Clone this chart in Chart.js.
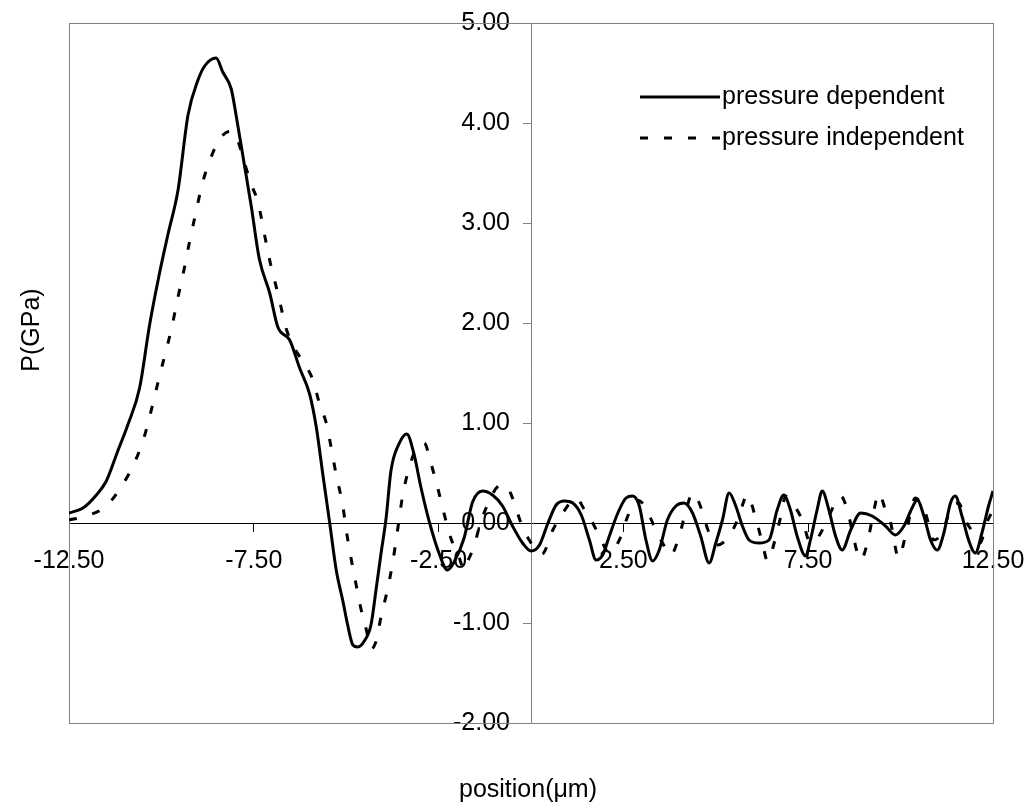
<!DOCTYPE html>
<html>
<head>
<meta charset="utf-8">
<script src="https://cdn.jsdelivr.net/npm/chart.js@4/dist/chart.umd.min.js"></script>
<style>
  html, body { margin: 0; padding: 0; background: #fff; }
  #wrap { width: 1034px; height: 809px; position: relative; }
</style>
</head>
<body>
<div id="wrap"><canvas id="chart"></canvas></div>
<script>
// pressure dependent (solid)
const depX = [-12.5,-12.12,-11.76,-11.49,-11.18,-10.91,-10.59,-10.32,-10.05,-9.82,-9.55,-9.28,-9.01,-8.83,-8.52,-8.34,-8.11,-7.98,-7.75,-7.57,-7.35,-7.07,-6.85,-6.53,-6.26,-5.99,-5.81,-5.63,-5.45,-5.27,-5.09,-4.96,-4.82,-4.69,-4.51,-4.33,-4.19,-4.06,-3.92,-3.79,-3.56,-3.36,-3.16,-2.98,-2.75,-2.48,-2.26,-2.08,-1.81,-1.58,-1.31,-1.04,-0.77,-0.50,-0.23,0.0,0.23,0.46,0.68,0.91,1.13,1.36,1.58,1.76,1.94,2.12,2.35,2.57,2.75,2.93,3.11,3.29,3.47,3.69,3.92,4.14,4.37,4.59,4.82,5.00,5.18,5.36,5.54,5.72,5.90,6.17,6.44,6.66,6.84,7.02,7.20,7.43,7.56,7.74,7.88,8.06,8.24,8.42,8.65,8.92,9.23,9.59,9.86,10.09,10.31,10.45,10.63,10.81,10.99,11.17,11.35,11.48,11.66,11.84,12.02,12.20,12.38,12.5];
const depY = [0.10,0.15,0.28,0.42,0.72,0.98,1.35,1.98,2.50,2.89,3.33,4.08,4.43,4.57,4.65,4.51,4.34,4.08,3.57,3.17,2.64,2.30,1.96,1.83,1.55,1.29,0.96,0.48,0.01,-0.47,-0.78,-1.02,-1.22,-1.24,-1.18,-1.02,-0.66,-0.31,0.05,0.52,0.80,0.89,0.68,0.36,0.01,-0.31,-0.47,-0.39,-0.15,0.21,0.32,0.28,0.17,-0.03,-0.20,-0.28,-0.22,0.0,0.18,0.22,0.20,0.08,-0.17,-0.37,-0.32,-0.13,0.10,0.25,0.27,0.17,-0.17,-0.38,-0.27,0.03,0.17,0.20,0.10,-0.13,-0.40,-0.20,0.03,0.30,0.17,-0.03,-0.17,-0.20,-0.17,0.13,0.28,0.13,-0.13,-0.33,-0.17,0.13,0.32,0.13,-0.13,-0.27,-0.07,0.10,0.07,-0.03,-0.12,-0.03,0.15,0.23,0.07,-0.17,-0.27,-0.10,0.20,0.27,0.07,-0.17,-0.30,-0.10,0.17,0.32];

// pressure independent (dashed)
const indX = [-12.5,-12.03,-11.49,-11.13,-10.73,-10.45,-10.32,-10.05,-9.73,-9.55,-9.35,-9.24,-9.10,-8.88,-8.61,-8.38,-8.11,-7.93,-7.75,-7.57,-7.39,-7.16,-7.03,-6.85,-6.62,-6.40,-6.13,-5.90,-5.72,-5.54,-5.41,-5.27,-5.09,-5.00,-4.87,-4.73,-4.60,-4.46,-4.33,-4.19,-4.06,-3.88,-3.74,-3.61,-3.47,-3.29,-3.11,-2.89,-2.71,-2.53,-2.35,-2.17,-1.94,-1.81,-1.72,-1.54,-1.36,-1.14,-0.91,-0.69,-0.50,-0.28,-0.05,0.30,0.59,0.86,1.22,1.45,1.67,1.85,2.12,2.39,2.62,2.84,3.06,3.33,3.56,3.78,4.01,4.19,4.37,4.55,4.82,5.04,5.36,5.59,5.86,6.04,6.26,6.40,6.58,6.76,6.89,7.07,7.34,7.56,7.79,8.06,8.38,8.60,8.74,8.92,9.10,9.28,9.41,9.59,9.73,9.95,10.13,10.40,10.67,10.90,11.12,11.39,11.57,11.75,11.97,12.15,12.33,12.5];
const indY = [0.03,0.07,0.17,0.34,0.60,0.88,1.06,1.47,1.94,2.26,2.60,2.81,3.05,3.41,3.70,3.86,3.92,3.82,3.60,3.39,3.21,2.79,2.56,2.30,1.94,1.75,1.59,1.43,1.19,1.00,0.76,0.48,0.17,-0.07,-0.35,-0.62,-0.86,-1.06,-1.26,-1.18,-0.94,-0.66,-0.39,-0.07,0.28,0.56,0.74,0.80,0.60,0.36,0.09,-0.15,-0.35,-0.47,-0.39,-0.23,0.01,0.21,0.36,0.38,0.25,0.01,-0.17,-0.31,-0.07,0.10,0.25,0.13,0.0,-0.13,-0.30,-0.17,0.07,0.23,0.18,-0.03,-0.20,-0.32,-0.13,0.12,0.30,0.20,-0.10,-0.22,-0.13,0.03,0.28,0.10,-0.20,-0.38,-0.20,0.07,0.27,0.20,0.03,-0.20,-0.13,0.07,0.27,0.07,-0.17,-0.37,-0.20,0.13,0.30,0.13,0.0,-0.35,-0.13,0.25,0.10,-0.17,-0.10,0.17,0.20,0.03,-0.10,-0.20,0.0,0.13];

const xTicks = [-12.5, -7.5, -2.5, 2.5, 7.5, 12.5];
const yTicks = [-2, -1, 0, 1, 2, 3, 4, 5];
const seriesNames = ["pressure dependent", "pressure independent"];
const xTitle = "position(\u03bcm)";
const yTitle = "P(GPa)";

const FONT = "Liberation Sans, Arial, sans-serif";

const pts = (xs, ys) => xs.map((x, i) => ({ x, y: ys[i] }));

// frame, legend and axis titles
const extras = {
  id: "extras",
  beforeDatasetsDraw(chart) {
    const { ctx, chartArea: a } = chart;
    ctx.save();
    ctx.strokeStyle = "#808080";
    ctx.lineWidth = 1;
    ctx.strokeRect(a.left + 0.5, a.top + 0.5, a.right - a.left, a.bottom - a.top);
    ctx.restore();
  },
  afterDraw(chart) {
    const { ctx } = chart;
    ctx.save();
    ctx.fillStyle = "#000";
    ctx.font = "25px " + FONT;
    ctx.textBaseline = "middle";

    // legend
    chart.data.datasets.forEach((ds, i) => {
      const y = 97 + i * 41;
      ctx.beginPath();
      ctx.strokeStyle = "#000";
      ctx.lineWidth = 3;
      ctx.setLineDash(ds.borderDash || []);
      ctx.moveTo(640, y);
      ctx.lineTo(720, y);
      ctx.stroke();
      ctx.setLineDash([]);
      ctx.textAlign = "left";
      ctx.fillText(ds.label, 722, y);
    });

    // axis titles
    ctx.textAlign = "center";
    ctx.fillText(xTitle, 528, 790);
    ctx.translate(32, 330);
    ctx.rotate(-Math.PI / 2);
    ctx.fillText(yTitle, 0, 0);
    ctx.restore();
  }
};

// axes cross at 0 inside the plot, so their labels shouldn't push the plot area in
function noPadding(scale) {
  scale.paddingLeft = 0;
  scale.paddingRight = 0;
  scale.paddingTop = 0;
  scale.paddingBottom = 0;
}

// y axis sits at x=0, chart.js puts its labels right on the line: move them left of the ticks
function shiftYLabels(scale) {
  if (scale._shifted) return;
  scale._shifted = true;
  const orig = scale._computeLabelItems;
  scale._computeLabelItems = function (area) {
    const items = orig.call(this, area);
    items.forEach((it) => { it.options.translation[0] -= 21; });
    return items;
  };
}

new Chart(document.getElementById("chart"), {
  type: "scatter",
  data: {
    datasets: [
      {
        label: seriesNames[0],
        data: pts(depX, depY),
        showLine: true,
        borderColor: "#000",
        borderWidth: 3,
        pointRadius: 0,
        cubicInterpolationMode: "monotone",
      },
      {
        label: seriesNames[1],
        data: pts(indX, indY),
        showLine: true,
        borderColor: "#000",
        borderWidth: 3,
        borderDash: [8, 16],
        pointRadius: 0,
        cubicInterpolationMode: "monotone",
      },
    ],
  },
  options: {
    responsive: true,
    maintainAspectRatio: false,
    animation: false,
    layout: { padding: { left: 69, top: 23, right: 41, bottom: 86 } },
    plugins: { legend: { display: false }, tooltip: { enabled: false } },
    scales: {
      x: {
        type: "linear",
        min: -12.5,
        max: 12.5,
        position: { y: 0 },
        afterBuildTicks: (s) => { s.ticks = xTicks.map((v) => ({ value: v })); },
        afterFit: noPadding,
        ticks: {
          autoSkip: false,
          maxRotation: 0,
          padding: 15,
          color: "#000",
          font: { family: FONT, size: 25 },
          callback: (v) => Number(v).toFixed(2),
        },
        grid: { drawOnChartArea: false, tickLength: 8, color: "#000" },
        border: { color: "#000", width: 1 },
      },
      y: {
        type: "linear",
        min: -2,
        max: 5,
        position: { x: 0 },
        afterBuildTicks: (s) => { s.ticks = yTicks.map((v) => ({ value: v })); },
        afterFit: noPadding,
        afterUpdate: shiftYLabels,
        ticks: {
          autoSkip: false,
          color: "#000",
          font: { family: FONT, size: 25 },
          callback: (v) => Number(v).toFixed(2),
        },
        grid: { drawOnChartArea: false, tickLength: 8, color: "#808080" },
        border: { color: "#808080", width: 1 },
      },
    },
  },
  plugins: [extras],
});
</script>
</body>
</html>
